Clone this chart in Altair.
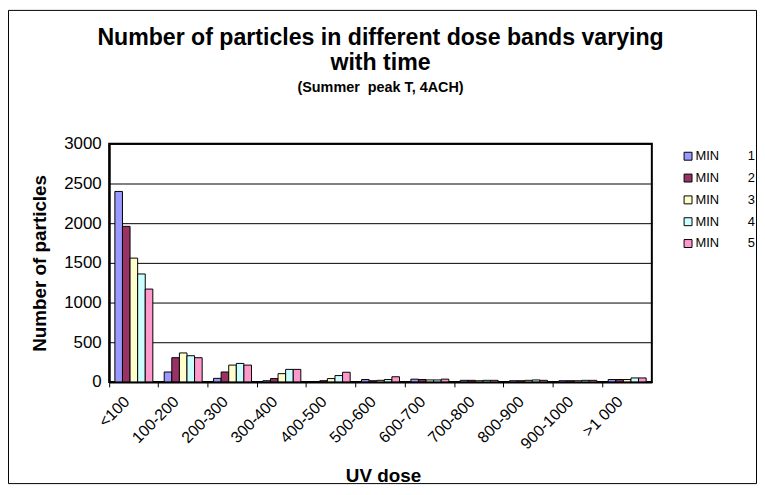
import altair as alt
import pandas as pd

categories = ["<100", "100-200", "200-300", "300-400", "400-500", "500-600",
              "600-700", "700-800", "800-900", "900-1000", ">1 000"]
SP = "\u00a0" * 7
series_names = ["MIN" + SP + " 1", "MIN" + SP + " 2", "MIN" + SP + " 3",
                "MIN" + SP + " 4", "MIN" + SP + " 5"]
min1 = [2400, 125, 45, 15, 5, 30, 35, 20, 15, 15, 30]
min2 = [1960, 305, 125, 42, 15, 15, 30, 20, 15, 15, 30]
min3 = [1560, 365, 212, 104, 42, 20, 25, 15, 20, 15, 30]
min4 = [1360, 330, 233, 158, 80, 30, 25, 20, 25, 20, 50]
min5 = [1170, 305, 212, 158, 122, 65, 35, 20, 20, 20, 50]
colors = ["#9999FF", "#993366", "#FFFFCC", "#CCFFFF", "#FF99CC"]
y_ticks = [0, 500, 1000, 1500, 2000, 2500, 3000]

rows = []
for name, vals in zip(series_names, [min1, min2, min3, min4, min5]):
    for c, v in zip(categories, vals):
        rows.append({"band": c, "series": name, "value": v})
df = pd.DataFrame(rows)

FONT = "Liberation Sans"
W, H = 547, 240

bars = alt.Chart(df).mark_bar(stroke="black", strokeWidth=1).encode(
    x=alt.X("band:N", sort=categories,
            scale=alt.Scale(paddingInner=0, paddingOuter=0),
            axis=alt.Axis(title="UV dose", bandPosition=0, labelAngle=-45, labelAlign="right",
                          labelBaseline="middle", labelOffset=-7, labelPadding=12,
                          labelFontSize=16, labelColor="black", tickColor="black", tickSize=5,
                          domainColor="black", domainWidth=2, titleFontSize=19,
                          titleFontWeight="bold", titleColor="black",
                          titleX=276, titleY=94, titleBaseline="middle")),
    xOffset=alt.XOffset("series:N", sort=series_names,
                        scale=alt.Scale(paddingInner=0, paddingOuter=0.75)),
    y=alt.Y("value:Q", scale=alt.Scale(domain=[0, 3000], nice=False),
            axis=alt.Axis(title="Number of particles", values=y_ticks, format="d", grid=True,
                          gridColor="black", gridWidth=1, ticks=False, domainColor="black",
                          domainWidth=2, labelFontSize=17, labelColor="black", labelPadding=8,
                          titleFontSize=19, titleFontWeight="bold", titleColor="black",
                          titleX=-70, titleY=120, titleAlign="center", titleBaseline="middle")),
    color=alt.Color("series:N", sort=series_names,
                    scale=alt.Scale(domain=series_names, range=colors),
                    legend=alt.Legend(title=None, orient="none", legendX=577, legendY=6,
                                      symbolType="square", symbolSize=64,
                                      symbolStrokeColor="black", symbolStrokeWidth=1,
                                      labelFontSize=13, labelColor="black", rowPadding=8,
                                      labelOffset=1, labelLimit=200)),
)

border = alt.Chart(alt.Data(values=[{"k": 1}])).mark_rect(
    filled=False, stroke="black", strokeWidth=1, clip=False
).encode(x=alt.value(-101.5), x2=alt.value(652.5), y=alt.value(-134.5), y2=alt.value(342.5))

chart = alt.layer(bars, border).properties(
    width=W, height=H,
    title=alt.Title(text=["Number of particles in different dose bands varying", "with time"],
                    subtitle="(Summer\u00a0 peak T, 4ACH)", fontSize=23.3, fontWeight="bold",
                    subtitleFontSize=14.5, subtitleFontWeight="bold", subtitleColor="black",
                    color="black", lineHeight=25, anchor="middle", offset=-86,
                    subtitlePadding=6),
    autosize=alt.AutoSizeParams(type="none"),
    padding={"left": 102, "top": 135, "right": 106, "bottom": 103},
).configure(font=FONT).configure_view(stroke="black", strokeWidth=2)

chart.save("out.html", embed_options={"renderer": "svg", "actions": False})
